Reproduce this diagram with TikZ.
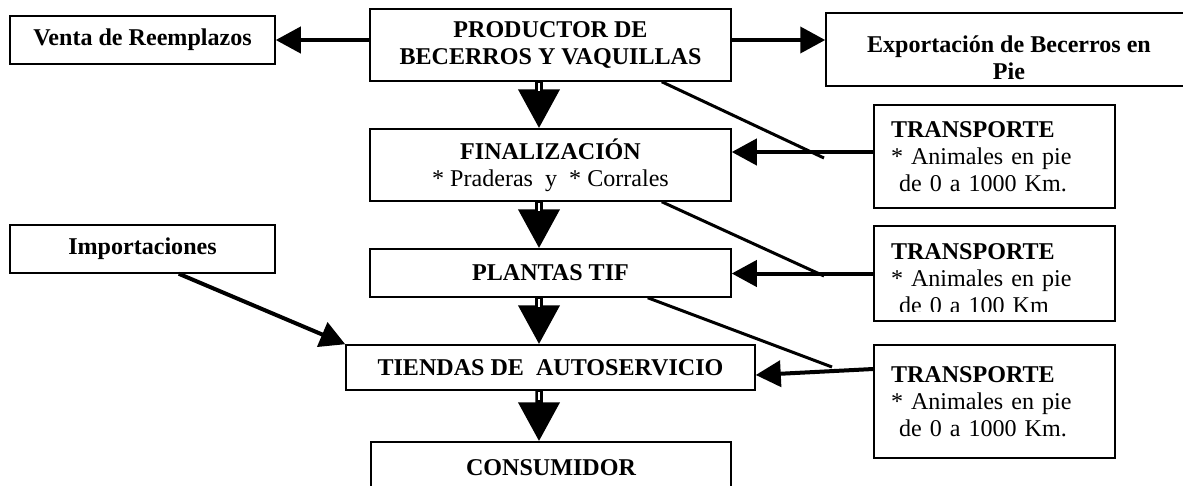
\documentclass[tikz,border=0pt]{standalone}
\usepackage{fontspec}
\setmainfont{Liberation Serif}
\usetikzlibrary{arrows.meta}
\newcommand{\boxfont}{\fontsize{13.7pt}{15.4pt}\selectfont}
\begin{document}
\begin{tikzpicture}[x=0.2mm,y=-0.2mm,
  box/.style={draw=black,line width=0.3mm,fill=none,align=center,inner sep=0pt,font=\boxfont\bfseries},
  tbox/.style={box,align=left,font=\boxfont,text width=41.4mm,inner xsep=3.4mm,minimum width=48.2mm},
  down/.style={line width=1.5mm,-{Triangle[length=7.8mm,width=8mm]}},
  side/.style={line width=0.8mm,-{Triangle[length=5mm,width=5.2mm]}},
  diag/.style={line width=0.6mm}]
  \useasboundingbox (0,0) rectangle (1183,485);
  % central chain
  \node[box,minimum width=72.2mm,minimum height=14.4mm] (prod) at (550.5,45) {PRODUCTOR DE\\BECERROS Y VAQUILLAS};
  \node[box,minimum width=72.2mm,minimum height=14.4mm] (final) at (550.5,165) {FINALIZACIÓN\\{\mdseries * Praderas\ \ y\ \ * Corrales}};
  \node[box,minimum width=72.2mm,minimum height=9.6mm] (tif) at (550.5,273) {PLANTAS TIF};
  \node[box,minimum width=81.8mm,minimum height=9mm] (tiendas) at (550.5,367.5) {TIENDAS DE\ \ AUTOSERVICIO};
  \node[box,minimum width=72mm,minimum height=10.4mm] (consum) at (551,468) {CONSUMIDOR};
  % side boxes
  \node[box,minimum width=53mm,minimum height=9.6mm] (venta) at (142.5,40) {Venta de Reemplazos};
  \node[box,minimum width=73.2mm,minimum height=14.6mm] (export) at (1009,49.5) {\rule{0pt}{6.6mm}Exportación de Becerros en\\Pie};
  \node[box,minimum width=53mm,minimum height=9.6mm] (import) at (142.5,249) {Importaciones};
  \node[tbox,minimum height=20.6mm] (t1) at (994.5,156.5) {\textbf{TRANSPORTE}\\{}* Animales en pie\\\ de 0 a 1000 Km.};
  \node[tbox,minimum height=19mm] (t2) at (994.5,273.5) {};
  \begin{scope}
    \clip (t2.north west) rectangle ([yshift=2mm]t2.south east);
    \node[tbox,draw=none,minimum height=19mm,yshift=-1mm] (t2text) at (t2) {\textbf{TRANSPORTE}\\{}* Animales en pie\\\ de 0 a 100 Km};
  \end{scope}
  \node[tbox,minimum height=22.6mm] (t3) at (994.5,401.5) {\textbf{TRANSPORTE}\\{}* Animales en pie\\\ de 0 a 1000 Km.};
  % flow down
  \draw[down] ([xshift=-2.3mm]prod.south) -- ([xshift=-2.3mm]final.north);
  \draw[down] ([xshift=-2.3mm]final.south) -- ([xshift=-2.3mm]tif.north);
  \draw[down] ([xshift=-2.3mm]tif.south) -- ([xshift=-2.3mm]tiendas.north);
  \draw[down] ([xshift=-2.3mm]tiendas.south) -- ([xshift=-2.4mm]consum.north);
  \draw[white,line width=0.5mm] ([xshift=-2.3mm,yshift=-0.3mm]prod.south) -- ++(0,8);
  \draw[white,line width=0.5mm] ([xshift=-2.3mm,yshift=-0.3mm]final.south) -- ++(0,8);
  \draw[white,line width=0.5mm] ([xshift=-2.3mm,yshift=-0.3mm]tif.south) -- ++(0,8);
  \draw[white,line width=0.5mm] ([xshift=-2.3mm,yshift=-0.3mm]tiendas.south) -- ++(0,8);
  % side flows
  \draw[side] (prod.west |- venta.east) -- (venta.east);
  \draw[side] (prod.east |- venta.east) -- (export.west |- venta.east);
  \draw[side] ([yshift=0.9mm]t1.west) -- ([yshift=0.9mm]t1.west -| final.east);
  \draw[side] (t2.west) -- (t2.west -| tif.east);
  \draw[side] ([yshift=6.5mm]t3.west) -- ([yshift=-1.5mm]tiendas.east);
  \draw[side] ([xshift=-19.4mm]import.south east) -- (tiendas.north west);
  % transport links
  \coordinate (c1) at (824,158);
  \coordinate (c2) at (824,276);
  \coordinate (c3) at (832,367);
  \draw[diag] ([xshift=-14mm]prod.south east) -- (c1);
  \draw[diag] ([xshift=-14mm]final.south east) -- (c2);
  \draw[diag] ([xshift=-16.8mm]tif.south east) -- (c3);
\end{tikzpicture}
\end{document}
